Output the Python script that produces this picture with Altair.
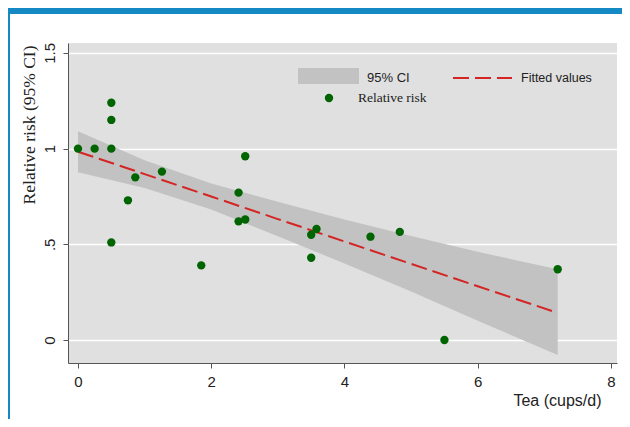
import altair as alt
import pandas as pd

# ---- data ----
tea = [0, 0.25, 0.5, 0.5, 0.5, 0.5, 0.75, 0.86, 1.26, 1.85, 2.41, 2.41,
       2.51, 2.51, 3.5, 3.5, 3.58, 4.39, 4.83, 5.5, 7.2]
rr = [1.0, 1.0, 1.24, 1.15, 1.0, 0.51, 0.73, 0.85, 0.88, 0.39, 0.77, 0.62,
      0.96, 0.63, 0.55, 0.43, 0.58, 0.54, 0.565, 0.0, 0.37]

fit_x = [0, 1, 2, 3, 4, 5, 6, 7.2]
fit_y = [0.984, 0.867, 0.750, 0.632, 0.515, 0.398, 0.281, 0.142]
ci_lo = [0.877, 0.795, 0.682, 0.542, 0.400, 0.253, 0.101, -0.078]
ci_hi = [1.091, 0.939, 0.818, 0.722, 0.630, 0.543, 0.461, 0.370]

x_ticks = [0, 2, 4, 6, 8]
y_ticks = [0, 0.5, 1, 1.5]

SANS = "Liberation Sans"
SERIF = "Liberation Serif"
BAND = "#c2c2c2"
RED = "#d42424"
GREEN = "#006400"
BLUE = "#1589c4"

pts = pd.DataFrame({"tea": tea, "rr": rr})
fit = pd.DataFrame({"x": fit_x, "fit": fit_y, "lo": ci_lo, "hi": ci_hi})

xscale = alt.Scale(domain=[-0.15, 8.09], nice=False, zero=False)
yscale = alt.Scale(domain=[-0.12, 1.552], nice=False, zero=False)

xaxis = alt.Axis(
    values=x_ticks, title="Tea (cups/d)", grid=False,
    labelFont=SANS, labelFontSize=15, labelColor="#222222", labelPadding=6,
    tickSize=5, tickColor="#555555", domainColor="#555555",
    titleFont=SANS, titleFontSize=16, titleFontWeight="normal", titleColor="#222222",
    titleX=533, titleY=37, titleAlign="right", titleBaseline="middle",
)
yaxis = alt.Axis(
    values=y_ticks, title="Relative risk  (95% CI)", grid=True,
    gridColor="white", gridWidth=1.5,
    labelExpr="replace(format(datum.value, '~g'), '0.', '.')",
    labelFont=SANS, labelFontSize=15, labelColor="#222222",
    labelAngle=270, labelAlign="center", labelBaseline="bottom", labelPadding=6,
    tickSize=5, tickColor="#555555", domainColor="#555555",
    titleFont=SERIF, titleFontSize=17.5, titleFontWeight="normal", titleColor="#222222",
    titleAngle=270, titleAlign="right", titleBaseline="alphabetic",
    titleX=-34, titleY=2,
)

band = alt.Chart(fit).mark_area(color=BAND, opacity=1).encode(
    x=alt.X("x:Q", scale=xscale, axis=xaxis),
    y=alt.Y("lo:Q", scale=yscale, axis=yaxis),
    y2="hi:Q",
)
line = alt.Chart(fit).mark_line(color=RED, strokeWidth=2, strokeDash=[16, 6]).encode(
    x=alt.X("x:Q", scale=xscale, axis=xaxis),
    y=alt.Y("fit:Q", scale=yscale, axis=yaxis),
)
points = alt.Chart(pts).mark_point(filled=True, color=GREEN, opacity=1, size=70).encode(
    x=alt.X("tea:Q", scale=xscale, axis=xaxis),
    y=alt.Y("rr:Q", scale=yscale, axis=yaxis),
)

one = alt.Data(values=[{"k": 1}])

leg_rect = alt.Chart(one).mark_rect(color=BAND).encode(
    x=alt.value(230), x2=alt.value(291), y=alt.value(25), y2=alt.value(41))
leg_ci = alt.Chart(one).mark_text(align="left", baseline="middle", font=SANS,
                                  fontSize=13, color="#222222").encode(
    x=alt.value(299), y=alt.value(35), text=alt.value("95% CI"))
leg_line = alt.Chart(one).mark_rule(color=RED, strokeWidth=2, strokeDash=[16, 6]).encode(
    x=alt.value(385), x2=alt.value(444), y=alt.value(35))
leg_fit = alt.Chart(one).mark_text(align="left", baseline="middle", font=SANS,
                                   fontSize=12.5, color="#222222").encode(
    x=alt.value(453), y=alt.value(35), text=alt.value("Fitted values"))
leg_dot = alt.Chart(one).mark_point(filled=True, color=GREEN, opacity=1, size=70).encode(
    x=alt.value(261), y=alt.value(55))
leg_rr = alt.Chart(one).mark_text(align="left", baseline="middle", font=SERIF,
                                  fontSize=13.5, color="#222222").encode(
    x=alt.value(290), y=alt.value(55), text=alt.value("Relative risk"))

# page frame decoration (blue top bar and left rule)
top_bar = alt.Chart(one).mark_rect(color=BLUE).encode(
    x=alt.value(-60), x2=alt.value(560), y=alt.value(-35), y2=alt.value(-29))
left_bar = alt.Chart(one).mark_rect(color=BLUE).encode(
    x=alt.value(-60), x2=alt.value(-58), y=alt.value(-35), y2=alt.value(376))

chart = alt.layer(
    band, line, points,
    leg_rect, leg_ci, leg_line, leg_fit, leg_dot, leg_rr,
    top_bar, left_bar,
).properties(
    width=549, height=320,
    autosize=alt.AutoSizeParams(type="none"),
    padding={"left": 60, "top": 35, "right": 5, "bottom": 56},
    background="white",
).configure_view(
    fill="#e0e0e0", stroke=None,
)

chart.save("out.html", embed_options={"renderer": "svg", "actions": False})
